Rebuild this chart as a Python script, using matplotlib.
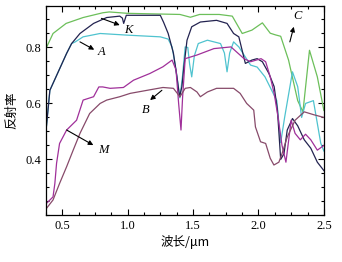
import matplotlib
matplotlib.use('Agg')
import matplotlib.pyplot as plt
from matplotlib.ticker import MultipleLocator

# spectra (wavelength um, reflectance)
c_x = [0.38, 0.43, 0.53, 0.66, 0.81, 0.86, 1.0, 1.2, 1.4, 1.48, 1.55, 1.7, 1.8, 1.876,
       1.95, 2.03, 2.09, 2.13, 2.17, 2.23, 2.30, 2.34, 2.39, 2.45, 2.5]
c_y = [0.80, 0.85, 0.886, 0.907, 0.924, 0.927, 0.922, 0.92, 0.918, 0.908, 0.918, 0.918, 0.912, 0.85,
       0.862, 0.888, 0.851, 0.845, 0.84, 0.755, 0.61, 0.57, 0.79, 0.695, 0.575]

k_x = [0.38, 0.406, 0.47, 0.534, 0.572, 0.636, 0.74, 0.84, 0.94, 0.96, 0.97, 0.99, 1.1, 1.25,
       1.275, 1.31, 1.35, 1.377, 1.397, 1.415, 1.43, 1.454, 1.49, 1.556, 1.68, 1.76, 1.81, 1.85,
       1.90, 1.95, 1.99, 2.03, 2.08, 2.12, 2.145, 2.17, 2.195, 2.22, 2.26, 2.30, 2.35, 2.40,
       2.45, 2.5]
k_y = [0.52, 0.647, 0.713, 0.779, 0.814, 0.85, 0.886, 0.907, 0.912, 0.905, 0.886, 0.915, 0.915, 0.915,
       0.89, 0.85, 0.78, 0.695, 0.624, 0.66, 0.73, 0.826, 0.874, 0.891, 0.897, 0.886, 0.85, 0.838,
       0.743, 0.755, 0.76, 0.749, 0.707, 0.66, 0.576, 0.40, 0.42, 0.505, 0.546, 0.52, 0.47, 0.44,
       0.39, 0.36]

a_x = [0.38, 0.406, 0.47, 0.534, 0.572, 0.60, 0.66, 0.79, 1.0, 1.25, 1.31, 1.34, 1.37, 1.40,
       1.42, 1.44, 1.46, 1.474, 1.49, 1.51, 1.54, 1.61, 1.71, 1.74, 1.76, 1.78, 1.81, 1.85,
       1.94, 1.99, 2.05, 2.10, 2.14, 2.17, 2.20, 2.26, 2.30, 2.33, 2.36, 2.42, 2.476, 2.5]
a_y = [0.52, 0.647, 0.713, 0.779, 0.814, 0.82, 0.838, 0.85, 0.844, 0.838, 0.83, 0.802, 0.72, 0.62,
       0.70, 0.802, 0.80, 0.74, 0.695, 0.77, 0.814, 0.826, 0.814, 0.78, 0.713, 0.78, 0.82, 0.802,
       0.737, 0.73, 0.695, 0.648, 0.61, 0.46, 0.55, 0.713, 0.66, 0.55, 0.60, 0.61, 0.458, 0.43]

m_x = [0.38, 0.43, 0.444, 0.457, 0.48, 0.534, 0.61, 0.66, 0.74, 0.78, 0.81, 0.866, 0.968, 1.045,
       1.17, 1.27, 1.34, 1.37, 1.39, 1.408, 1.42, 1.44, 1.53, 1.66, 1.79, 1.89, 1.94, 2.02,
       2.055, 2.09, 2.12, 2.15, 2.18, 2.21, 2.25, 2.28, 2.32, 2.36, 2.40, 2.45, 2.5]
m_y = [0.243, 0.266, 0.314, 0.386, 0.457, 0.505, 0.54, 0.612, 0.624, 0.659, 0.659, 0.654, 0.657, 0.683,
       0.707, 0.731, 0.755, 0.72, 0.60, 0.505, 0.62, 0.76, 0.773, 0.796, 0.802, 0.76, 0.749, 0.76,
       0.749, 0.695, 0.636, 0.55, 0.45, 0.39, 0.54, 0.493, 0.47, 0.49, 0.47, 0.433, 0.45]

b_x = [0.38, 0.43, 0.48, 0.534, 0.584, 0.636, 0.71, 0.79, 0.84, 0.94, 1.02, 1.15, 1.27, 1.35,
       1.40, 1.44, 1.48, 1.53, 1.556, 1.61, 1.68, 1.79, 1.81, 1.86, 1.91, 1.964, 1.977, 2.016,
       2.055, 2.09, 2.118, 2.156, 2.18, 2.22, 2.28, 2.35, 2.42, 2.5]
b_y = [0.225, 0.255, 0.314, 0.374, 0.433, 0.493, 0.564, 0.6, 0.612, 0.624, 0.636, 0.647, 0.657, 0.654,
       0.624, 0.654, 0.657, 0.641, 0.624, 0.641, 0.654, 0.654, 0.654, 0.636, 0.60, 0.576, 0.516, 0.463,
       0.457, 0.404, 0.38, 0.39, 0.42, 0.48, 0.54, 0.57, 0.56, 0.55]

fig = plt.figure(figsize=(3.42, 2.62), dpi=100)
ax = fig.add_axes([0.134, 0.178, 0.813, 0.801])

ax.plot(c_x, c_y, color='#6cbf5a', lw=0.9)
ax.plot(a_x, a_y, color='#4fc3cf', lw=0.9)
ax.plot(k_x, k_y, color='#232350', lw=0.9)
ax.plot(m_x, m_y, color='#a0309a', lw=0.9)
ax.plot(b_x, b_y, color='#874a6a', lw=0.9)

# curve labels: (name, arrow tail, arrow head, text position)
labels = [('K', (0.80, 0.904), (0.94, 0.88), (1.005, 0.864)),
          ('A', (0.636, 0.82), (0.745, 0.792), (0.80, 0.785)),
          ('C', (2.24, 0.82), (2.27, 0.874), (2.30, 0.912)),
          ('B', (1.262, 0.647), (1.172, 0.612), (1.142, 0.578)),
          ('M', (0.534, 0.505), (0.738, 0.451), (0.815, 0.433))]
for name, tail, head, pos in labels:
    ax.annotate('', xy=head, xytext=tail,
                arrowprops=dict(arrowstyle='-|>', color='black', lw=0.8,
                                mutation_scale=7, shrinkA=0, shrinkB=0))
    ax.text(pos[0], pos[1], name, fontsize=9, style='italic', family='Liberation Serif',
            ha='center', va='center')

ax.set_xlim(0.375, 2.5)
ax.set_ylim(0.2, 0.95)
ax.xaxis.set_major_locator(MultipleLocator(0.5))
ax.xaxis.set_minor_locator(MultipleLocator(0.125))
ax.yaxis.set_minor_locator(MultipleLocator(0.05))
ax.set_yticks([0.4, 0.6, 0.8])
ax.tick_params(which='both', direction='in', top=True, right=True, labelsize=9, width=0.8)
ax.tick_params(which='major', length=4)
ax.tick_params(which='minor', length=2.5)
for lab in ax.get_xticklabels() + ax.get_yticklabels():
    lab.set_family('Liberation Serif')
for s in ax.spines.values():
    s.set_linewidth(0.9)

ax.set_xlabel('波长/μm', family=['Noto Sans CJK SC', 'DejaVu Sans'], fontsize=9, labelpad=2)
ax.set_ylabel('反射率', family=['Noto Sans CJK SC', 'DejaVu Sans'], fontsize=9, labelpad=5)

fig.savefig('out.png', dpi=100)
